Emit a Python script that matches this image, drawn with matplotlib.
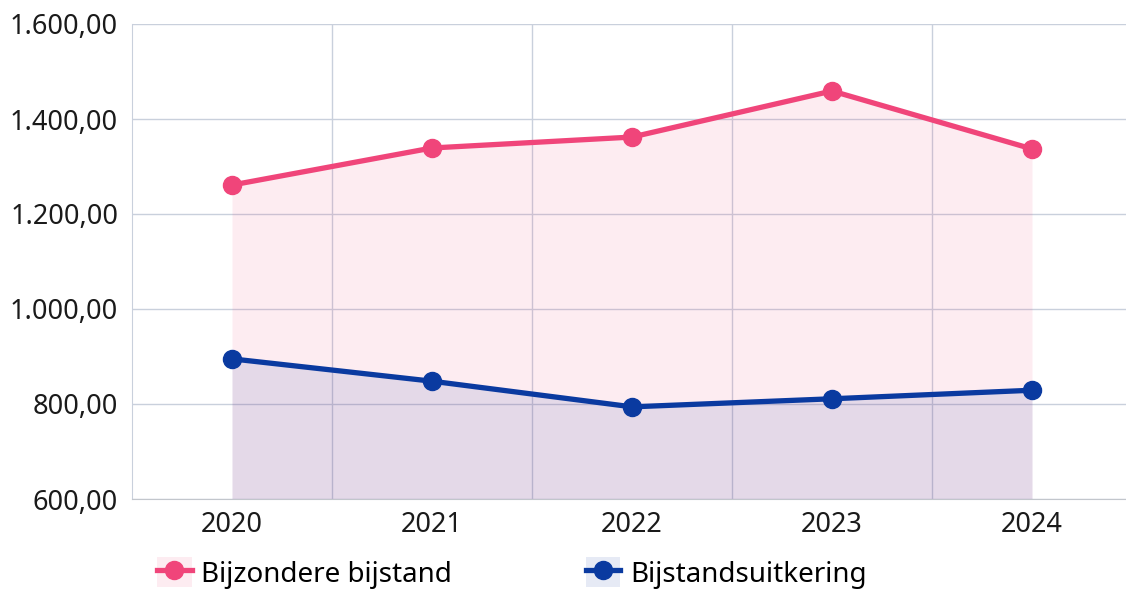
import matplotlib.pyplot as plt
from matplotlib.lines import Line2D
from matplotlib.patches import Rectangle
from matplotlib.ticker import FuncFormatter

years = ['2020', '2021', '2022', '2023', '2024']
bijzondere = [1261, 1339, 1362, 1459, 1337]
uitkering = [895, 848, 794, 811, 829]

pink = '#f0457a'
blue = '#0a3aa0'
grid_col = '#c9d0dc'

plt.rcParams['font.family'] = ['Noto Sans', 'DejaVu Sans']

fig = plt.figure(figsize=(11.26, 5.92), dpi=100)
ax = fig.add_axes([132 / 1126, 1 - 499 / 592, 1000 / 1126, 475 / 592])

x = range(len(years))
ax.fill_between(x, 600, bijzondere, color=pink, alpha=0.1, lw=0, zorder=2)
ax.fill_between(x, 600, uitkering, color=blue, alpha=0.1, lw=0, zorder=2)
ax.plot(x, bijzondere, color=pink, lw=3.8, marker='o', ms=13, zorder=4, clip_on=False)
ax.plot(x, uitkering, color=blue, lw=3.8, marker='o', ms=13, zorder=4, clip_on=False)

ax.set_xlim(-0.5, 4.5)
ax.set_ylim(600, 1600)
ax.set_xticks(list(x))
ax.set_xticklabels(years)
ax.set_xticks([0.5, 1.5, 2.5, 3.5], minor=True)
ax.set_yticks(range(600, 1601, 200))
ax.yaxis.set_major_formatter(FuncFormatter(
    lambda v, p: f'{v:,.2f}'.replace(',', 'X').replace('.', ',').replace('X', '.')))

ax.grid(axis='y', which='major', color=grid_col, lw=1, zorder=1)
ax.grid(axis='x', which='minor', color=grid_col, lw=1, zorder=1)
ax.tick_params(which='both', length=0, labelsize=19.5, colors='#1a1a1a')
ax.tick_params(axis='y', pad=10)
ax.tick_params(axis='x', pad=9)
for s in ['top', 'right']:
    ax.spines[s].set_visible(False)
ax.spines['left'].set_color(grid_col)
ax.spines['bottom'].set_color('#c2c6cc')

handles = [
    (Rectangle((0, 0), 1, 1, color=pink, alpha=0.1, lw=0),
     Line2D([], [], color=pink, lw=3.8, marker='o', ms=13)),
    (Rectangle((0, 0), 1, 1, color=blue, alpha=0.1, lw=0),
     Line2D([], [], color=blue, lw=3.8, marker='o', ms=13)),
]
fig.legend(handles, ['Bijzondere bijstand', 'Bijstandsuitkering'],
           loc='center left', bbox_to_anchor=(143 / 1126, 1 - 573 / 592),
           ncol=2, frameon=False, fontsize=20, handlelength=1.25, handleheight=1.25,
           handletextpad=0.35, columnspacing=4.8, borderpad=0)

fig.savefig('out.png', dpi=100)
